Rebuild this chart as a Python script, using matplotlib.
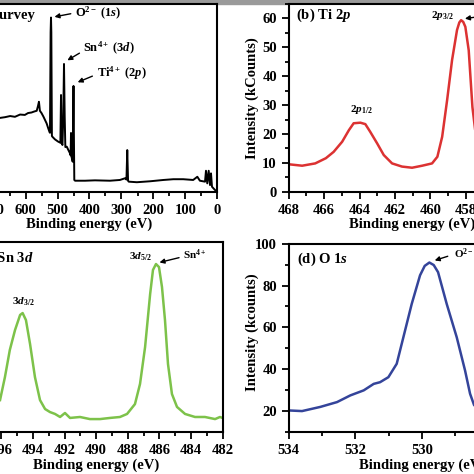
import matplotlib
matplotlib.use("Agg")
import matplotlib.pyplot as plt
from matplotlib.ticker import MultipleLocator
from matplotlib.patches import Rectangle

plt.rcParams.update({
    'font.family': ['Liberation Serif', 'DejaVu Serif'],
    'font.weight': 'bold',
    'font.size': 10.5,
    'axes.labelweight': 'bold',
    'mathtext.fontset': 'custom',
    'mathtext.rm': 'Liberation Serif:bold',
    'mathtext.it': 'Liberation Serif:bold:italic',
    'mathtext.bf': 'Liberation Serif:bold',
})

# (a) survey spectrum
survey_ev = [680, 664, 648, 633, 617, 602, 592, 581, 573, 565, 561, 558, 555, 550,
             544, 539, 534, 529, 525, 523.5, 521.5, 520.3, 519.3, 517.5, 516, 508,
             498, 491, 489, 487, 484.5, 482, 479.7, 477.5, 475.5, 471, 466, 461,
             459, 457.8, 456.5, 454.7, 452.5, 451, 450, 449, 447.5, 445, 414, 383,
             336, 305, 289, 284.5, 282, 279.5, 277.5, 252, 211, 169, 138, 107, 76,
             63, 55, 39, 36, 32, 27.5, 23.4, 20.3, 17.2, 8, 0.6]
survey_int = [39.4, 39.8, 40.4, 40.0, 41.2, 41.0, 42.0, 42.3, 42.8, 43.2, 45.7, 48.0,
              43.2, 42.0, 40.1, 38.3, 36.5, 33.9, 31.9, 31.5, 85, 92.8, 85, 29.8, 29.4,
              28.0, 26.8, 26.2, 51.6, 26.0, 25.0, 40, 68.1, 40, 23.9, 24.1, 22.3, 20.6,
              19.5, 31.4, 19, 17.6, 16.1, 40, 56.4, 35, 6.4, 6.0, 6.0, 6.2, 6.0, 6.4,
              7.3, 6.6, 22.3, 6.0, 5.5, 5.2, 5.7, 6.4, 6.8, 6.8, 6.4, 8.1, 6.0, 5.5,
              11.3, 4.6, 11.3, 3.7, 9.9, 2.8, 1.1, 0.2]

# (b) Ti 2p
ti_ev = [468.0, 467.24, 466.5, 465.9, 465.46, 464.98, 464.6, 464.33, 463.95, 463.67,
         463.4, 463.0, 462.63, 462.16, 461.6, 461.03, 460.46, 459.9, 459.6, 459.33,
         459.05, 458.77, 458.49, 458.36, 458.26, 458.14, 458.02, 457.83, 457.62,
         457.4, 457.0, 456.0]
ti_int = [9.5, 9.0, 9.8, 11.6, 13.8, 17.3, 21.3, 23.7, 23.9, 23.4, 20.8, 16.7, 12.7,
          9.8, 8.7, 8.3, 9.0, 9.8, 12.1, 19.0, 31.7, 45.6, 56.0, 58.6, 59.4, 58.8,
          57.1, 49.0, 29.3, 18.0, 11.0, 9.0]

# (c) Sn 3d
sn_ev = [496.08, 495.77, 495.46, 495.13, 494.81, 494.65, 494.44, 494.18, 493.87,
         493.55, 493.23, 492.92, 492.6, 492.28, 491.97, 491.65, 491.02, 490.39,
         489.75, 489.12, 488.49, 488.04, 487.54, 487.22, 486.9, 486.58, 486.4,
         486.21, 486.02, 485.83, 485.64, 485.45, 485.2, 484.88, 484.37, 483.74,
         483.11, 482.47, 482.16, 482.0]
sn_int = [16.8, 28.9, 43.2, 53.7, 61.6, 62.6, 58.9, 46.3, 28.9, 16.8, 12.1, 10.5, 9.5,
          7.9, 10.0, 7.4, 7.9, 6.8, 6.8, 7.4, 7.9, 9.5, 14.7, 25.3, 44.7, 72.6, 85.3,
          88.4, 86.8, 76.3, 58.9, 35.8, 20.0, 13.2, 9.5, 7.9, 7.9, 6.8, 7.9, 7.4]

# (d) O 1s
o_ev = [534.0, 533.6, 533.05, 532.55, 532.15, 531.75, 531.45, 531.26, 531.01, 530.76,
        530.56, 530.31, 530.06, 529.92, 529.78, 529.65, 529.52, 529.26, 528.96,
        528.71, 528.56, 528.44, 528.2, 527.5, 526.0]
o_int = [20.3, 20.0, 22.0, 24.3, 27.5, 29.9, 33.0, 33.8, 36.2, 42.6, 55.3, 71.2, 84.9,
         89.4, 91.0, 89.8, 86.4, 71.2, 55.3, 39.4, 28.3, 22.9, 19.0, 17.0, 16.0]

W = 474.0
fig = plt.figure(figsize=(4.74, 4.74), dpi=100)


def px_axes(left, top, width, height):
    return fig.add_axes([left / W, (W - top - height) / W, width / W, height / W])


def style(ax):
    for s in ax.spines.values():
        s.set_linewidth(1.5)
    ax.tick_params(which='both', direction='out', top=False, right=False, width=1.3,
                   labelsize=10.5)
    ax.tick_params(which='major', length=5)
    ax.tick_params(which='minor', length=3)


arrow = dict(arrowstyle='-|>', color='black', lw=1.0, mutation_scale=7)

# panel a
ax1 = px_axes(-38.5, 4, 256, 188)
ax1.plot(survey_ev, survey_int, color='black', lw=1.4)
ax1.set_xlim(800, 0)
ax1.set_ylim(0, 100)
ax1.xaxis.set_major_locator(MultipleLocator(100))
ax1.xaxis.set_minor_locator(MultipleLocator(50))
ax1.set_yticks([])
ax1.set_xlabel('Binding energy (eV)', labelpad=0.5)
style(ax1)
ax1.text(570, 94, '(a) Survey', ha='right', va='center', fontsize=10.5)
ax1.annotate('', xy=(518, 92.9), xytext=(450, 95.1), arrowprops=arrow)
ax1.text(446, 95, r'O$^{2-}$ (1$\mathit{s}$)', ha='left', va='center', fontsize=9)
ax1.annotate('', xy=(476.6, 69.3), xytext=(424, 74.6), arrowprops=arrow)
ax1.text(420, 76.4, r'Sn$^{4+}$ (3$\mathit{d}$)', ha='left', va='center', fontsize=9)
ax1.annotate('', xy=(445, 57.8), xytext=(383, 62.2), arrowprops=arrow)
ax1.text(378, 63.1, r'Ti$^{4+}$ (2$\mathit{p}$)', ha='left', va='center', fontsize=9)

# panel b
ax2 = px_axes(288.7, 4, 247.8, 187.7)
ax2.plot(ti_ev, ti_int, color='#dc3232', lw=1.8)
ax2.set_xlim(468, 454)
ax2.set_ylim(0, 65)
ax2.xaxis.set_major_locator(MultipleLocator(2))
ax2.xaxis.set_minor_locator(MultipleLocator(1))
ax2.yaxis.set_major_locator(MultipleLocator(10))
ax2.yaxis.set_minor_locator(MultipleLocator(5))
ax2.set_xlabel('Binding energy (eV)', labelpad=0.5)
ax2.set_ylabel('Intensity (kCounts)')
ax2.yaxis.set_label_coords(-0.12, 0.5)
style(ax2)
ax2.text(467.58, 61.1, r'(b) Ti 2$\mathit{p}$', ha='left', va='center', fontsize=10.5)
ax2.text(463.9, 28.3, r'2$\mathit{p}_{\mathit{1/2}}$', ha='center', va='center', fontsize=8)
ax2.text(459.3, 61.1, r'2$\mathit{p}_{\mathit{3/2}}$', ha='center', va='center', fontsize=8)
ax2.annotate('', xy=(458.2, 59.8), xytext=(456.7, 61.1), arrowprops=arrow)

# panel c
ax3 = px_axes(-30.3, 242, 252.8, 190)
ax3.plot(sn_ev, sn_int, color='#7dc24a', lw=1.8)
ax3.set_xlim(498, 482)
ax3.set_ylim(0, 100)
ax3.xaxis.set_major_locator(MultipleLocator(2))
ax3.xaxis.set_minor_locator(MultipleLocator(1))
ax3.set_yticks([])
ax3.set_xlabel('Binding energy (eV)', labelpad=1)
style(ax3)
ax3.text(493.93, 91.2, r'(c) Sn 3$\mathit{d}$', ha='right', va='center', fontsize=10.5)
ax3.text(494.6, 68.4, r'3$\mathit{d}_{\mathit{3/2}}$', ha='center', va='center', fontsize=8)
ax3.text(487.2, 92.1, r'3$\mathit{d}_{\mathit{5/2}}$', ha='center', va='center', fontsize=8)
ax3.text(483.74, 93.2, r'Sn$^{4+}$', ha='center', va='center', fontsize=8)
ax3.annotate('', xy=(486.16, 88.9), xytext=(484.58, 92.1), arrowprops=arrow)

# panel d
ax4 = px_axes(288.7, 243.7, 266.7, 188.3)
ax4.plot(o_ev, o_int, color='#34449a', lw=1.8)
ax4.set_xlim(534, 526)
ax4.set_ylim(10, 100)
ax4.xaxis.set_major_locator(MultipleLocator(2))
ax4.xaxis.set_minor_locator(MultipleLocator(1))
ax4.yaxis.set_major_locator(MultipleLocator(20))
ax4.yaxis.set_minor_locator(MultipleLocator(10))
ax4.set_xlabel('Binding energy (eV)', labelpad=1)
ax4.set_ylabel('Intensity (kcounts)')
ax4.yaxis.set_label_coords(-0.111, 0.53)
style(ax4)
ax4.text(533.75, 92.7, r'(d) O 1$\mathit{s}$', ha='left', va='center', fontsize=10.5)
ax4.annotate('', xy=(529.7, 91.6), xytext=(529.15, 94.4), arrowprops=arrow)
ax4.text(529.05, 95.1, r'O$^{2-}$', ha='left', va='center', fontsize=8)

fig.patches.append(Rectangle((0, 1 - 3.5 / W), 1, 3.5 / W, transform=fig.transFigure,
                             color='#9a9a9a', zorder=-1))

fig.savefig('out.png', dpi=100)
